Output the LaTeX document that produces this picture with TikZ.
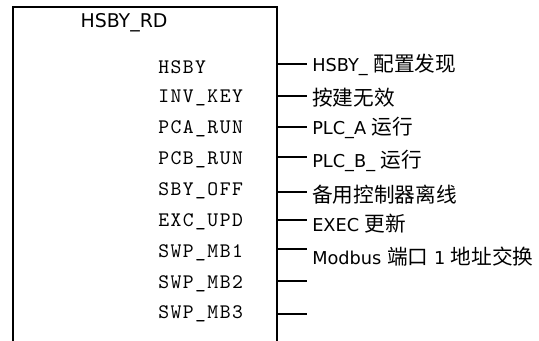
\documentclass[tikz,border=0pt]{standalone}
\usepackage{fontspec}
\setmainfont{DejaVu Sans}
\newfontfamily\cjk{Noto Sans CJK SC}
\newfontfamily\pinfont{lmmono10-regular.otf}[LetterSpace=7]
\usetikzlibrary{positioning}
\newcommand{\zh}[1]{{\cjk\fontsize{15.5}{18}\selectfont #1}}

\begin{document}
\begin{tikzpicture}[
  x=0.75pt,y=-0.75pt,
  blk/.style={draw,line width=1.5pt,minimum width=198pt,minimum height=300pt,anchor=north west,inner sep=0pt},
  pin/.style={font=\pinfont\fontsize{15.5}{17}\selectfont,anchor=west,inner sep=0pt},
  lbl/.style={font=\fontsize{13.3}{15}\selectfont,inner sep=0pt},
  wire/.style={line width=1.4pt}
]
\useasboundingbox (0,0) rectangle (539,341);

% ---- function block (open at the bottom) ----
\node[blk] (fb) at (12,6) {};
\node[font=\fontsize{14.2}{16}\selectfont] (name) at (124,23) {HSBY\_RD};

% ---- output pins ----
\node[pin] (p1) at (158,67) {HSBY};
\node[pin] (p2) at (158,98) {INV\_KEY};
\node[pin] (p3) at (158,129) {PCA\_RUN};
\node[pin] (p4) at (158,160) {PCB\_RUN};
\node[pin] (p5) at (158,191) {SBY\_OFF};
\node[pin] (p6) at (158,222) {EXC\_UPD};
\node[pin] (p7) at (158,253) {SWP\_MB1};
\node[pin] (p8) at (158,284) {SWP\_MB2};
\node[pin] (p9) at (158,314) {SWP\_MB3};

% ---- wire stubs ----
\coordinate (e1) at (fb.east |- 0,64);  \coordinate (t1) at (307,64);
\coordinate (e2) at (fb.east |- 0,96);  \coordinate (t2) at (307,96);
\coordinate (e3) at (fb.east |- 0,127); \coordinate (t3) at (307,127);
\coordinate (e4) at (fb.east |- 0,157); \coordinate (t4) at (307,157);
\coordinate (e5) at (fb.east |- 0,192); \coordinate (t5) at (307,192);
\coordinate (e6) at (fb.east |- 0,220); \coordinate (t6) at (307,220);
\coordinate (e7) at (fb.east |- 0,249); \coordinate (t7) at (307,249);
\coordinate (e8) at (fb.east |- 0,281); \coordinate (t8) at (307,281);
\coordinate (e9) at (fb.east |- 0,314); \coordinate (t9) at (307,314);

% ---- signal descriptions ----
\node[lbl,right=3.75pt of t1,yshift=-1pt] (l1) {HSBY\_ \zh{配置发现}};
\node[lbl,right=3.75pt of t2,yshift=-1pt] (l2) {\zh{按建无效}};
\node[lbl,right=3.75pt of t3,yshift=-1pt] (l3) {PLC\_A \zh{运行}};
\node[lbl,right=3.75pt of t4,yshift=-3pt] (l4) {PLC\_B\_ \zh{运行}};
\node[lbl,right=3.75pt of t5,yshift=-2pt] (l5) {\zh{备用控制器离线}};
\node[lbl,right=3.75pt of t6,yshift=-3pt] (l6) {EXEC \zh{更新}};
\node[lbl,right=3.75pt of t7,yshift=-6pt] (l7) {Modbus \zh{端口} 1 \zh{地址交换}};

% wires
\draw[wire] (e1) -- (t1);
\draw[wire] (e2) -- (t2);
\draw[wire] (e3) -- (t3);
\draw[wire] (e4) -- (t4);
\draw[wire] (e5) -- (t5);
\draw[wire] (e6) -- (t6);
\draw[wire] (e7) -- (t7);
\draw[wire] (e8) -- (t8);
\draw[wire] (e9) -- (t9);
\end{tikzpicture}
\end{document}
